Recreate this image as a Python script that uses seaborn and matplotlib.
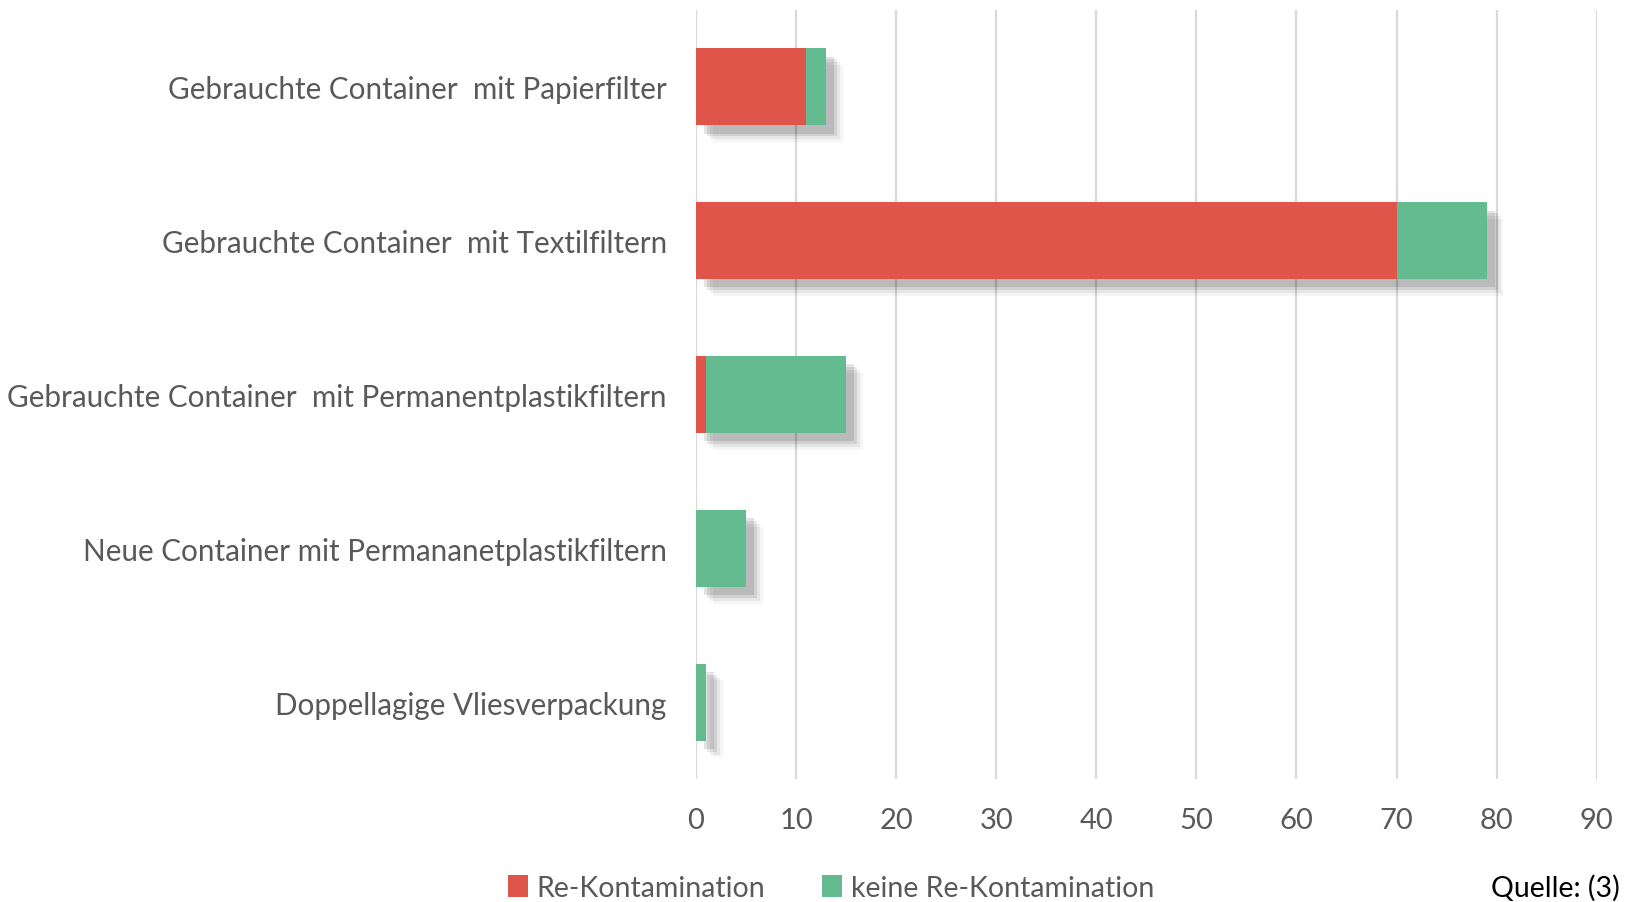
import pandas as pd
import seaborn as sns
import matplotlib.pyplot as plt
import matplotlib.patheffects as pe
from matplotlib.patches import Patch

categories = [
    "Gebrauchte Container  mit Papierfilter",
    "Gebrauchte Container  mit Textilfiltern",
    "Gebrauchte Container  mit Permanentplastikfiltern",
    "Neue Container mit Permananetplastikfiltern",
    "Doppellagige Vliesverpackung",
]
re_kontamination = [11, 70, 1, 0, 0]
keine_re_kontamination = [2, 9, 14, 5, 1]
series_names = ["Re-Kontamination", "keine Re-Kontamination"]
x_ticks = [0, 10, 20, 30, 40, 50, 60, 70, 80, 90]

RED = "#E0554A"
GREEN = "#63BB8F"
TEXT = "#595959"

sns.set_theme(style="white")
plt.rcParams["font.family"] = ["Lato", "DejaVu Sans"]

df = pd.DataFrame({
    "kategorie": categories,
    "re": re_kontamination,
    "keine": keine_re_kontamination,
})
df["gesamt"] = df["re"] + df["keine"]

fig = plt.figure(figsize=(16.26, 9.03), dpi=100)
ax = fig.add_axes([0.428, 0.136, 0.554, 0.852])

# total bar (green) carries the shadow, red part drawn over it
sns.barplot(data=df, y="kategorie", x="gesamt", color=GREEN, width=0.5,
            saturation=1, ax=ax, orient="h")
shadow = [pe.SimplePatchShadow(offset=(o, -o), shadow_rgbFace="#000000", alpha=a)
          for o, a in [(12, 0.04), (10, 0.06), (8, 0.09), (6, 0.11)]]
for p in ax.patches:
    p.set_path_effects(shadow + [pe.Normal()])
sns.barplot(data=df, y="kategorie", x="re", color=RED, width=0.5,
            saturation=1, ax=ax, orient="h")
for p in ax.patches:
    p.set_linewidth(0)

ax.set_xlim(0, 90)
ax.set_ylim(4.5, -0.5)
ax.set_xticks(x_ticks)
ax.set_xlabel("")
ax.set_ylabel("")
ax.xaxis.grid(True, color="#D9D9D9", linewidth=1.6)
ax.set_axisbelow(True)
for s in ax.spines.values():
    s.set_visible(False)
ax.tick_params(axis="x", length=0, pad=20, labelsize=21, labelcolor=TEXT)
ax.tick_params(axis="y", length=0, pad=21, labelsize=21.3, labelcolor=TEXT)

handles = [Patch(facecolor=RED, edgecolor="none"), Patch(facecolor=GREEN, edgecolor="none")]
fig.legend(handles, series_names, loc="center", bbox_to_anchor=(0.511, 0.016),
           ncol=2, frameon=False, fontsize=20.5, labelcolor=TEXT,
           handlelength=0.7, handleheight=0.8, handletextpad=0.3, columnspacing=2.0)

fig.text(0.996, 0.016, "Quelle: (3)", ha="right", va="center", fontsize=20.5, color="black")

fig.savefig("out.png", dpi=100, facecolor="white")
